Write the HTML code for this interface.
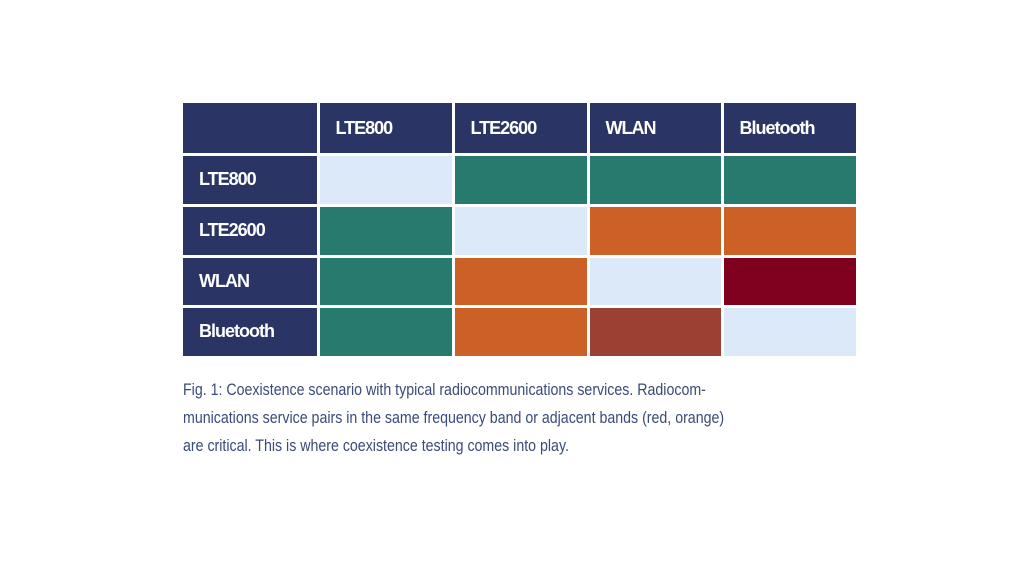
<!DOCTYPE html>
<html><head><meta charset="utf-8"><style>
body{margin:0;width:1024px;height:576px;background:#fff;position:relative;overflow:hidden;font-family:"Liberation Sans",sans-serif}
.c{position:absolute;box-sizing:border-box;color:#fff;font-weight:bold;font-size:18px;letter-spacing:-1px;display:flex;align-items:center;padding-left:16px}
#cap{position:absolute;left:183px;top:376px;width:700px;font-size:16.5px;line-height:28px;color:#3a4a7a;transform:scaleX(0.86);transform-origin:0 0;width:820px}
</style></head><body>
<div id="tbl"></div>
<div id="cap">Fig. 1: Coexistence scenario with typical radiocommunications services. Radiocom-<br>munications service pairs in the same frequency band or adjacent bands (red, orange)<br>are critical. This is where coexistence testing comes into play.</div>
<script>
const services=["LTE800","LTE2600","WLAN","Bluetooth"];
const levels=[
 ["self","ok","ok","ok"],
 ["ok","self","adjacent","adjacent"],
 ["ok","adjacent","self","same"],
 ["ok","adjacent","moderate","self"]
];
const colorMap={self:"#dce9f8",ok:"#267a6e",adjacent:"#cc6128",same:"#800020",moderate:"#9b4033"};
const navy="#2a3566";
const t=document.getElementById('tbl');
const x0=183,y0=103,cw=[135,135,135,134,135],rh=[51,51,51,50,51],g=1.5;
function cell(r,c,bg,txt,name){
 let x=x0;for(let i=0;i<c;i++)x+=cw[i];
 let y=y0;for(let i=0;i<r;i++)y+=rh[i];
 const d=document.createElement('div');d.className='c';
 d.style.left=(x+(c?g:0))+'px';d.style.top=(y+(r?g:0))+'px';
 d.style.width=(cw[c]-(c?g:0)-g/2)+'px';d.style.height=(rh[r]-(r?g:0)-g/2)+'px';
 d.style.background=bg;d.textContent=txt||'';
 
 
 t.appendChild(d);
}
cell(0,0,navy,'','corner-cell');
services.forEach((s,i)=>{cell(0,i+1,navy,s,'column-header-'+s.toLowerCase());cell(i+1,0,navy,s,'row-header-'+s.toLowerCase());});
levels.forEach((row,r)=>row.forEach((v,c)=>cell(r+1,c+1,colorMap[v],'','cell-'+services[r].toLowerCase()+'-'+services[c].toLowerCase())));
</script>
</body></html>
